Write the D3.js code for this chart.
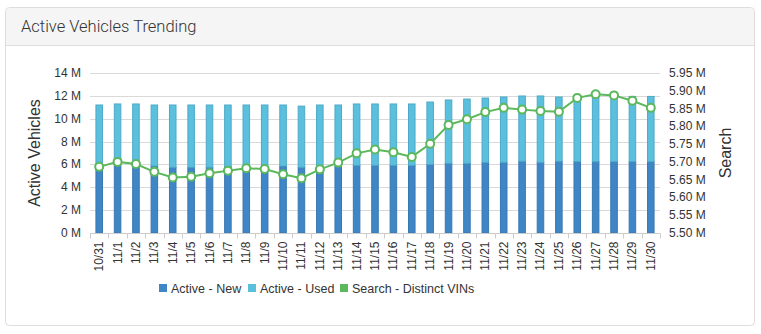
<!DOCTYPE html>
<html>
<head>
<meta charset="utf-8">
<script src="https://cdn.jsdelivr.net/npm/d3@7"></script>
<style>
  html, body { margin: 0; padding: 0; background: #fff; }
  svg { display: block; }
</style>
</head>
<body>
<svg id="chart" width="761" height="334"></svg>
<script>
const categories = ["10/31","11/1","11/2","11/3","11/4","11/5","11/6","11/7","11/8","11/9","11/10","11/11","11/12","11/13","11/14","11/15","11/16","11/17","11/18","11/19","11/20","11/21","11/22","11/23","11/24","11/25","11/26","11/27","11/28","11/29","11/30"];
const activeNew = [5.86,6.05,6.0,5.86,5.75,5.75,5.75,5.8,5.8,5.8,5.86,5.75,5.8,5.8,5.92,5.92,5.92,5.92,6.0,6.1,6.1,6.18,6.18,6.28,6.18,6.28,6.26,6.24,6.24,6.24,6.24];
const activeTotal = [11.2,11.29,11.29,11.2,11.2,11.2,11.2,11.2,11.2,11.2,11.2,11.1,11.2,11.2,11.29,11.29,11.29,11.29,11.46,11.64,11.72,11.81,11.9,11.99,11.99,11.9,11.97,12.05,11.99,11.95,11.95];
const activeUsed = activeTotal.map((t, i) => +(t - activeNew[i]).toFixed(2));
const searchVINs = [5.686,5.700,5.694,5.672,5.656,5.658,5.668,5.675,5.682,5.680,5.665,5.654,5.679,5.698,5.724,5.735,5.727,5.714,5.751,5.804,5.820,5.840,5.852,5.847,5.843,5.841,5.880,5.890,5.887,5.872,5.852];
const leftTicks = [0,2,4,6,8,10,12,14];
const rightTicks = [5.50,5.55,5.60,5.65,5.70,5.75,5.80,5.85,5.90,5.95];
const legendItems = [
  {label: "Active - New", color: "#3e86c6"},
  {label: "Active - Used", color: "#5bc0de"},
  {label: "Search - Distinct VINs", color: "#5cb85c"}
];

(function () {
const svg = d3.select("#chart");
const font = "Liberation Sans, Arial, sans-serif";

// panel
svg.append("rect").attr("x", 5.5).attr("y", 7.5).attr("width", 749).attr("height", 318)
  .attr("rx", 4).attr("fill", "#fff").attr("stroke", "#ddd");
svg.append("path").attr("d", "M6,45 L6,12 Q6,8 10,8 L750,8 Q754,8 754,12 L754,45 Z").attr("fill", "#f5f5f5");
svg.append("line").attr("x1", 6).attr("x2", 754).attr("y1", 45.5).attr("y2", 45.5).attr("stroke", "#ddd");
svg.append("text").attr("x", 21).attr("y", 32).text("Active Vehicles Trending")
  .attr("font-family", "Roboto, sans-serif").attr("font-weight", 300).attr("font-size", 16.5).attr("fill", "#333");

const pL = 90, pR = 660, pT = 73, pB = 233;
const x = d3.scaleBand().domain(categories).range([pL, pR]).paddingInner(0.59).paddingOuter(0.295);
const xb = d3.scaleBand().domain(categories).range([pL, pR]);
const y = d3.scaleLinear().domain([0, 14]).range([pB, pT]);
const y2 = d3.scaleLinear().domain([5.5, 5.95]).range([pB, pT]);

// gridlines
svg.append("g").selectAll("line").data(leftTicks.filter(d => d > 0)).join("line")
  .attr("x1", pL).attr("x2", pR)
  .attr("y1", d => Math.round(y(d)) + 0.5).attr("y2", d => Math.round(y(d)) + 0.5)
  .attr("stroke", "#d9d9d9");

// bars
const g = svg.append("g");
categories.forEach((c, i) => {
  const bx = x(c), bw = x.bandwidth();
  g.append("rect").attr("x", bx + 0.5).attr("y", y(activeNew[i])).attr("width", bw - 1)
    .attr("height", y(0) - y(activeNew[i])).attr("fill", "#3e86c6").attr("stroke", "#3a78b0").attr("stroke-width", 1);
  g.append("rect").attr("x", bx + 0.5).attr("y", y(activeTotal[i])).attr("width", bw - 1)
    .attr("height", y(activeNew[i]) - y(activeTotal[i])).attr("fill", "#5bc0de").attr("stroke", "#4fa9c6").attr("stroke-width", 1);
});

// x axis
const xAxis = svg.append("g").attr("transform", `translate(0,${pB + 0.5})`);
xAxis.append("line").attr("x1", pL).attr("x2", pR).attr("stroke", "#ccc");
xAxis.selectAll("line.tick").data(categories.concat(["__end"])).join("line").attr("class", "tick")
  .attr("x1", (d, i) => Math.round(pL + i * xb.step()) + 0.5)
  .attr("x2", (d, i) => Math.round(pL + i * xb.step()) + 0.5)
  .attr("y1", 0).attr("y2", 5).attr("stroke", "#ccc");
xAxis.selectAll("text").data(categories).join("text")
  .attr("transform", d => `translate(${xb(d) + xb.bandwidth() / 2 + 4},8) rotate(-90)`)
  .attr("text-anchor", "end").attr("font-family", font).attr("font-size", 12).attr("fill", "#333")
  .text(d => d);

// left axis
svg.append("g").selectAll("text").data(leftTicks).join("text")
  .attr("x", 81).attr("y", d => y(d) + 4).attr("text-anchor", "end")
  .attr("font-family", font).attr("font-size", 12).attr("fill", "#333").text(d => d + " M");
svg.append("text").attr("transform", `translate(40,${(pT + pB) / 2}) rotate(-90)`)
  .attr("text-anchor", "middle").attr("font-family", font).attr("font-size", 16).attr("fill", "#333")
  .text("Active Vehicles");

// right axis
svg.append("g").selectAll("text").data(rightTicks).join("text")
  .attr("x", 669).attr("y", d => y2(d) + 4).attr("text-anchor", "start")
  .attr("font-family", font).attr("font-size", 12).attr("fill", "#333").text(d => d.toFixed(2) + " M");
svg.append("text").attr("transform", `translate(731,${(pT + pB) / 2}) rotate(-90)`)
  .attr("text-anchor", "middle").attr("font-family", font).attr("font-size", 16).attr("fill", "#333")
  .text("Search");

// line
const line = d3.line().x((d, i) => xb(categories[i]) + xb.bandwidth() / 2).y(d => y2(d));
svg.append("path").datum(searchVINs).attr("d", line).attr("fill", "none")
  .attr("stroke", "#5cb85c").attr("stroke-width", 2);
svg.append("g").selectAll("circle").data(searchVINs).join("circle")
  .attr("cx", (d, i) => xb(categories[i]) + xb.bandwidth() / 2).attr("cy", d => y2(d))
  .attr("r", 4).attr("fill", "#fff").attr("stroke", "#5cb85c").attr("stroke-width", 2);

// legend
const legendX = [159, 248, 340];
const lg = svg.append("g");
legendItems.forEach((it, i) => {
  lg.append("rect").attr("x", legendX[i]).attr("y", 284).attr("width", 8).attr("height", 8).attr("fill", it.color);
  lg.append("text").attr("x", legendX[i] + 12).attr("y", 292.5).attr("font-family", font)
    .attr("font-size", 12.5).attr("fill", "#333").text(it.label);
});
})();
</script>
</body>
</html>
